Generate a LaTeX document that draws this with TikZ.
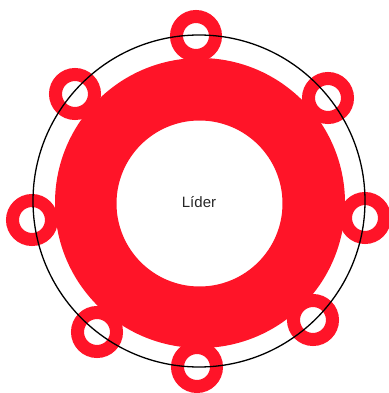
\documentclass[tikz,border=0pt]{standalone}
\usepackage{fontspec}
\setmainfont{Liberation Sans}
\definecolor{ringred}{RGB}{255,20,40}
\begin{document}
\begin{tikzpicture}[x=1pt,y=-1pt,
  bigring/.style={fill=ringred,even odd rule},
  smallring/.style={circle,draw=ringred,line width=13pt,minimum size=39pt,inner sep=0pt,fill=white},
  orbit/.style={draw=black,line width=1.3pt},
  label/.style={font=\fontsize{15}{17}\selectfont,text=black!85}]
\useasboundingbox (0,0) rectangle (388,393);
\fill[bigring] (200,203) circle (145) (199.5,203.5) circle (83);
\node[smallring] (r1) at (196,36) {};
\node[smallring] (r2) at (328,98) {};
\node[smallring] (r3) at (365,218) {};
\node[smallring] (r4) at (313,320) {};
\node[smallring] (r5) at (197,367) {};
\node[smallring] (r6) at (97,332) {};
\node[smallring] (r7) at (32,220) {};
\node[smallring] (r8) at (75,94) {};
\draw[orbit] (199,201) circle (166);
\node[label] (lider) at (199,202) {Líder};
\end{tikzpicture}
\end{document}
